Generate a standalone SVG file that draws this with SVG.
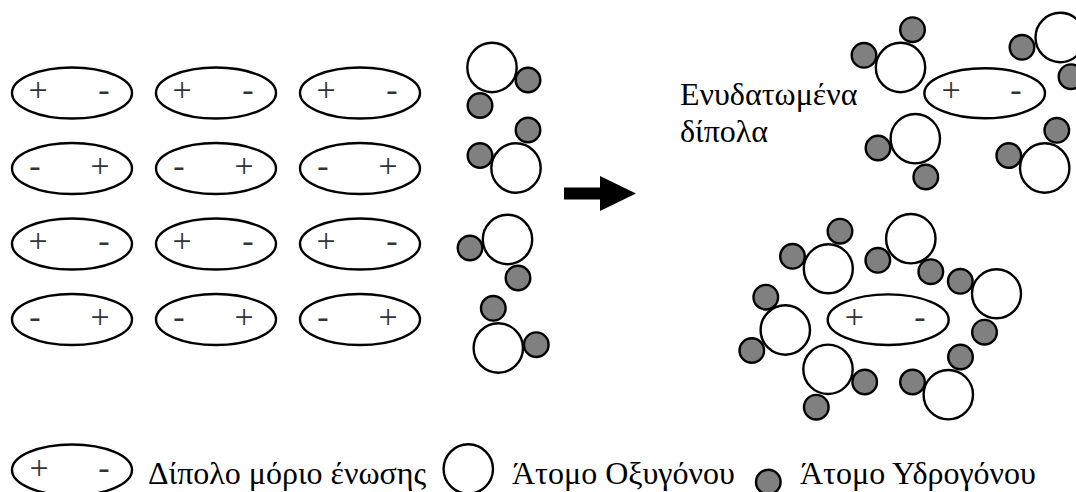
<svg xmlns="http://www.w3.org/2000/svg" width="1076" height="492" viewBox="0 0 1076 492">
  <style>
    .dip { fill: #fff; stroke: #000; stroke-width: 2.4; }
    .ox { fill: #fff; stroke: #000; stroke-width: 2.4; }
    .hy { fill: #808080; stroke: #000; stroke-width: 2.4; }
    .sg { font-size: 34px; fill: #333; text-anchor: middle; }
    .lbl { font-size: 32px; fill: #000; }
  </style>
  <rect width="1076" height="492" fill="#fff"/>

  <g font-family="Liberation Serif, DejaVu Serif, serif">
  <!-- dipole molecules, left block: rows alternate orientation -->
  <g id="dipole-r1c1"><ellipse class="dip" cx="72" cy="93" rx="60" ry="25.5"/><text class="sg" x="38" y="101">+</text><text class="sg" x="104" y="101">-</text></g>
  <g id="dipole-r1c2"><ellipse class="dip" cx="216" cy="93" rx="60" ry="25.5"/><text class="sg" x="182" y="101">+</text><text class="sg" x="248" y="101">-</text></g>
  <g id="dipole-r1c3"><ellipse class="dip" cx="360" cy="93" rx="60" ry="25.5"/><text class="sg" x="326" y="101">+</text><text class="sg" x="392" y="101">-</text></g>

  <g id="dipole-r2c1"><ellipse class="dip" cx="72" cy="168.5" rx="60" ry="25.5"/><text class="sg" x="35" y="176.5">-</text><text class="sg" x="100" y="176.5">+</text></g>
  <g id="dipole-r2c2"><ellipse class="dip" cx="216" cy="168.5" rx="60" ry="25.5"/><text class="sg" x="179" y="176.5">-</text><text class="sg" x="244" y="176.5">+</text></g>
  <g id="dipole-r2c3"><ellipse class="dip" cx="360" cy="168.5" rx="60" ry="25.5"/><text class="sg" x="323" y="176.5">-</text><text class="sg" x="388" y="176.5">+</text></g>

  <g id="dipole-r3c1"><ellipse class="dip" cx="72" cy="244" rx="60" ry="25.5"/><text class="sg" x="38" y="252">+</text><text class="sg" x="104" y="252">-</text></g>
  <g id="dipole-r3c2"><ellipse class="dip" cx="216" cy="244" rx="60" ry="25.5"/><text class="sg" x="182" y="252">+</text><text class="sg" x="248" y="252">-</text></g>
  <g id="dipole-r3c3"><ellipse class="dip" cx="360" cy="244" rx="60" ry="25.5"/><text class="sg" x="326" y="252">+</text><text class="sg" x="392" y="252">-</text></g>

  <g id="dipole-r4c1"><ellipse class="dip" cx="72" cy="319.5" rx="60" ry="25.5"/><text class="sg" x="35" y="327.5">-</text><text class="sg" x="100" y="327.5">+</text></g>
  <g id="dipole-r4c2"><ellipse class="dip" cx="216" cy="319.5" rx="60" ry="25.5"/><text class="sg" x="179" y="327.5">-</text><text class="sg" x="244" y="327.5">+</text></g>
  <g id="dipole-r4c3"><ellipse class="dip" cx="360" cy="319.5" rx="60" ry="25.5"/><text class="sg" x="323" y="327.5">-</text><text class="sg" x="388" y="327.5">+</text></g>

  <!-- free water molecules -->
  <g id="water-1"><circle class="ox" cx="492" cy="67.5" r="24.7"/><circle class="hy" cx="528" cy="80" r="12.3"/><circle class="hy" cx="480" cy="105.5" r="12.3"/></g>
  <g id="water-2"><circle class="hy" cx="528" cy="130" r="12.3"/><circle class="hy" cx="480" cy="155.5" r="12.3"/><circle class="ox" cx="516" cy="168" r="24.7"/></g>
  <g id="water-3"><circle class="ox" cx="507.5" cy="239.5" r="24.7"/><circle class="hy" cx="470" cy="248" r="12.3"/><circle class="hy" cx="518" cy="278" r="12.3"/></g>
  <g id="water-4"><circle class="hy" cx="493.3" cy="308.3" r="12.3"/><circle class="ox" cx="498.3" cy="348" r="24.7"/><circle class="hy" cx="536.3" cy="344.7" r="12.3"/></g>

  <!-- reaction arrow -->
  <g id="connectors">
    <polygon id="arrow" points="564,187.5 600,187.5 600,176 636,193.5 600,211 600,199.5 564,199.5" fill="#000"/>
  </g>

  <g id="label-hydrated">
    <text class="lbl" x="680" y="105">Ενυδατωμένα</text>
    <text class="lbl" x="680" y="142">δίπολα</text>
  </g>

  <!-- hydrated dipole, upper -->
  <g id="hydrated-upper">
    <g id="hu-dipole"><ellipse class="dip" cx="984.7" cy="93.3" rx="60.3" ry="25"/><text class="sg" x="951" y="101.3">+</text><text class="sg" x="1016" y="101.3">-</text></g>
    <g id="hu-w1"><circle class="ox" cx="900.5" cy="67.5" r="24.7"/><circle class="hy" cx="912.5" cy="29.7" r="12.3"/><circle class="hy" cx="864" cy="55.3" r="12.3"/></g>
    <g id="hu-w2"><circle class="ox" cx="1060.2" cy="37.5" r="24.7"/><circle class="hy" cx="1022" cy="47.3" r="12.3"/><circle class="hy" cx="1071" cy="76.7" r="12.3"/></g>
    <g id="hu-w3"><circle class="ox" cx="915.3" cy="138.7" r="24.7"/><circle class="hy" cx="878" cy="148" r="12.3"/><circle class="hy" cx="925.8" cy="177" r="12.3"/></g>
    <g id="hu-w4"><circle class="hy" cx="1056.8" cy="130.3" r="12.3"/><circle class="hy" cx="1008.8" cy="155.5" r="12.3"/><circle class="ox" cx="1044.7" cy="168" r="24.7"/></g>
  </g>

  <!-- hydrated dipole, lower -->
  <g id="hydrated-lower">
    <g id="hl-dipole"><ellipse class="dip" cx="888.2" cy="319.7" rx="60.5" ry="25.3"/><text class="sg" x="854.3" y="327.7">+</text><text class="sg" x="920" y="327.7">-</text></g>
    <g id="hl-w1"><circle class="ox" cx="828.3" cy="268.8" r="24.5"/><circle class="hy" cx="792.5" cy="256.3" r="12.3"/><circle class="hy" cx="840" cy="231.2" r="12.3"/></g>
    <g id="hl-w2"><circle class="ox" cx="910.8" cy="238.7" r="24.7"/><circle class="hy" cx="877.8" cy="260.3" r="12.3"/><circle class="hy" cx="930.8" cy="271.7" r="12.3"/></g>
    <g id="hl-w3"><circle class="ox" cx="996.5" cy="293.8" r="24.5"/><circle class="hy" cx="960.3" cy="281.3" r="12.3"/><circle class="hy" cx="984.5" cy="332.2" r="12.3"/></g>
    <g id="hl-w4"><circle class="hy" cx="765.8" cy="297.2" r="12.3"/><circle class="ox" cx="785.3" cy="330" r="24.7"/><circle class="hy" cx="751.8" cy="350.5" r="12.3"/></g>
    <g id="hl-w5"><circle class="ox" cx="828" cy="369.3" r="24.7"/><circle class="hy" cx="864.7" cy="382" r="12.3"/><circle class="hy" cx="816.3" cy="407.2" r="12.3"/></g>
    <g id="hl-w6"><circle class="hy" cx="912.5" cy="382" r="12.3"/><circle class="hy" cx="960.5" cy="357" r="12.3"/><circle class="ox" cx="948.3" cy="394.7" r="24.7"/></g>
  </g>

  <!-- legend -->
  <g id="legend">
    <g id="legend-dipole"><ellipse class="dip" cx="72" cy="470" rx="60" ry="25.5"/><text class="sg" x="39" y="479">+</text><text class="sg" x="104" y="479">-</text></g>
    <text class="lbl" x="148" y="484">Δίπολο μόριο ένωσης</text>
    <circle id="legend-oxygen" class="ox" cx="468.3" cy="469" r="24.7"/>
    <text class="lbl" x="512" y="484">Άτομο Οξυγόνου</text>
    <circle id="legend-hydrogen" class="hy" cx="768.3" cy="482" r="12.3"/>
    <text class="lbl" x="800" y="484">Άτομο Υδρογόνου</text>
  </g>
  </g>
</svg>
